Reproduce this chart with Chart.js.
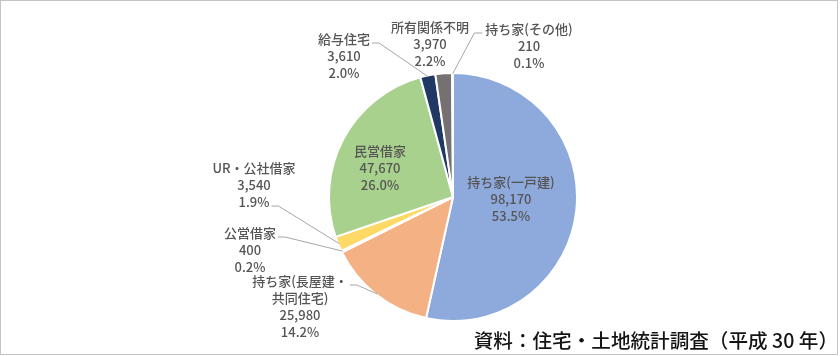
<!DOCTYPE html>
<html lang="ja">
<head>
<meta charset="utf-8">
<script src="https://cdn.jsdelivr.net/npm/chart.js@4.4.1/dist/chart.umd.min.js"></script>
<style>
  html, body { margin: 0; padding: 0; background: #fff; }
  #wrap { position: relative; width: 840px; height: 356px; overflow: hidden; }
  #frame { position: absolute; left: 0; top: 0; width: 836px; height: 353px; border: 1px solid #C4C4C4; pointer-events: none; }
  #c { position: absolute; left: 0; top: 0; }
  #note { position: absolute; right: 2px; top: 327px; font-family: "Noto Sans CJK JP", sans-serif; font-size: 19.6px; font-weight: 500; line-height: 26px; color: #141414; white-space: nowrap; }
</style>
</head>
<body>
<div id="wrap">
  <canvas id="c" width="840" height="356"></canvas>
  <div id="frame"></div>
  <div id="note">資料：住宅・土地統計調査（平成 30 年）</div>
</div>
<script>
// ---- data ----
const categories = ['持ち家(一戸建)', '持ち家(長屋建・共同住宅)', '公営借家', 'UR・公社借家', '民営借家', '給与住宅', '所有関係不明', '持ち家(その他)'];
const values = [98170, 25980, 400, 3540, 47670, 3610, 3970, 210];
const colors = ['#8EA9DB', '#F4B183', '#F8CBAD', '#FFD966', '#A9D18E', '#203864', '#767171', '#DDE6F4'];

// ---- label layout (offsets from pie centre, px) ----
const labelLayout = [
  { dx: 58,   dy: -15 },                                         // 一戸建 (inside)
  { dx: -153, dy: 84,  wrap: 8, leader: { line: 0, side: 'right' } },
  { dx: -203, dy: 36,  leader: { line: 0, side: 'right' } },
  { dx: -199, dy: -29, leader: { line: 2, side: 'right' } },
  { dx: -73,  dy: -46 },                                         // 民営借家 (inside)
  { dx: -109, dy: -158, leader: { line: 0, side: 'right' } },
  { dx: -23,  dy: -170 },
  { dx: 76,   dy: -168, leader: { line: 0, side: 'left' } }
];

const total = values.reduce((a, b) => a + b, 0);
const fmt = v => v.toLocaleString('en-US');
const pct = v => (v / total * 100).toFixed(1) + '%';

const labelPlugin = {
  id: 'pieLabels',
  afterDatasetsDraw(chart) {
    const ctx = chart.ctx;
    const meta = chart.getDatasetMeta(0);
    const LH = 17;
    ctx.save();
    ctx.font = '500 13px "Noto Sans CJK JP", sans-serif';
    ctx.textAlign = 'center';
    ctx.textBaseline = 'middle';
    meta.data.forEach((arc, i) => {
      const L = labelLayout[i];
      const name = categories[i];
      const nameLines = L.wrap ? [name.slice(0, L.wrap), name.slice(L.wrap)] : [name];
      const lines = nameLines.concat([fmt(values[i]), pct(values[i])]);
      const cx = arc.x + L.dx, cy = arc.y + L.dy;
      if (L.leader) {
        const li = L.leader.line;
        const w = ctx.measureText(lines[li]).width;
        const ly = cy + li * LH + 4;
        let sx, hx;
        if (L.leader.side === 'right') { sx = cx + w / 2 + 2; hx = sx + 7; }
        else { sx = cx - w / 2 - 3; hx = sx - 8; }
        const mid = (arc.startAngle + arc.endAngle) / 2;
        const r = arc.outerRadius - 1;
        const ex = arc.x + Math.cos(mid) * r, ey = arc.y + Math.sin(mid) * r;
        ctx.strokeStyle = '#A6A6A6';
        ctx.lineWidth = 1;
        ctx.beginPath();
        ctx.moveTo(sx, ly);
        ctx.lineTo(hx, ly);
        ctx.lineTo(ex, ey);
        ctx.stroke();
      }
      ctx.fillStyle = '#555555';
      lines.forEach((t, k) => ctx.fillText(t, cx, cy + k * LH));
    });
    ctx.restore();
  }
};

new Chart(document.getElementById('c'), {
  type: 'pie',
  data: {
    labels: categories,
    datasets: [{
      data: values,
      backgroundColor: colors,
      borderColor: '#FFFFFF',
      borderWidth: 2
    }]
  },
  options: {
    responsive: false,
    devicePixelRatio: 1,
    animation: false,
    layout: { padding: { left: 328, right: 262, top: 72, bottom: 34 } },
    plugins: { legend: { display: false }, tooltip: { enabled: false } }
  },
  plugins: [labelPlugin]
});
</script>
</body>
</html>
